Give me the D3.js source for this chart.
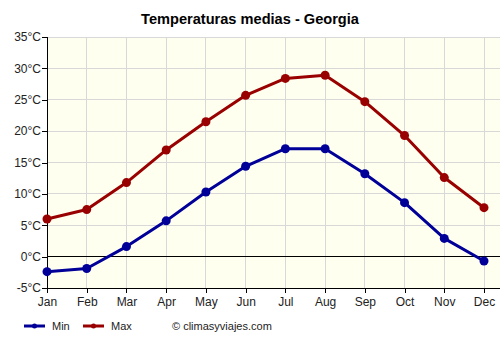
<!DOCTYPE html>
<html>
<head>
<meta charset="utf-8">
<script src="https://cdn.jsdelivr.net/npm/d3@7"></script>
<style>
  body { margin: 0; background: #fff; }
  svg { display: block; font-family: "Liberation Sans", Arial, sans-serif; }
</style>
</head>
<body>
<svg id="chart" width="500" height="350"></svg>
<script>
const months = ["Jan","Feb","Mar","Apr","May","Jun","Jul","Aug","Sep","Oct","Nov","Dec"];
const minTemps = [-2.4, -1.9, 1.6, 5.7, 10.3, 14.4, 17.2, 17.2, 13.2, 8.6, 2.9, -0.7];
const maxTemps = [6.0, 7.5, 11.8, 17.0, 21.5, 25.7, 28.4, 28.9, 24.7, 19.3, 12.6, 7.8];
const yTicks = [-5, 0, 5, 10, 15, 20, 25, 30, 35];

const svg = d3.select("#chart");
const plotLeft = 47, plotRight = 500, plotTop = 37, plotBottom = 288;

const x = d3.scalePoint().domain(months).range([plotLeft, 484]);
const y = d3.scaleLinear().domain([-5, 35]).range([plotBottom, plotTop]);

// plot background
svg.append("rect")
  .attr("x", plotLeft).attr("y", plotTop)
  .attr("width", plotRight - plotLeft).attr("height", plotBottom - plotTop)
  .attr("fill", "#fffff0");

// grid
svg.append("g").selectAll("line").data(yTicks).enter().append("line")
  .attr("x1", plotLeft).attr("x2", plotRight)
  .attr("y1", d => y(d)).attr("y2", d => y(d))
  .attr("stroke", "#d8d8d8")
  .attr("shape-rendering", "crispEdges");

svg.append("g").selectAll("line").data(months).enter().append("line")
  .attr("x1", d => x(d)).attr("x2", d => x(d))
  .attr("y1", plotTop).attr("y2", plotBottom)
  .attr("stroke", "#d8d8d8")
  .attr("shape-rendering", "crispEdges");

// zero line
svg.append("line")
  .attr("x1", plotLeft).attr("x2", plotRight)
  .attr("y1", y(0)).attr("y2", y(0))
  .attr("stroke", "#000").attr("shape-rendering", "crispEdges");

// axes
const yAxis = svg.append("g")
  .attr("transform", "translate(" + plotLeft + ",0)")
  .call(d3.axisLeft(y).tickValues(yTicks).tickSize(5).tickFormat(d => d + "°C"));
const xAxis = svg.append("g")
  .attr("transform", "translate(0," + plotBottom + ")")
  .call(d3.axisBottom(x).tickSize(5));
xAxis.select(".domain").attr("d", "M" + plotLeft + ",0.5H" + plotRight);

[yAxis, xAxis].forEach(function(a) {
  a.selectAll("text").attr("font-size", 12).attr("fill", "#222")
    .attr("font-family", "Liberation Sans, Arial, sans-serif");
  a.selectAll("line, path").attr("stroke", "#000").attr("shape-rendering", "crispEdges");
});
yAxis.selectAll("text").attr("x", -6);
xAxis.selectAll("text").attr("y", 9);

// series
const series = [
  { name: "Min", values: minTemps, color: "#000099" },
  { name: "Max", values: maxTemps, color: "#990000" }
];

const line = d3.line()
  .x((d, i) => x(months[i]))
  .y(d => y(d));

series.forEach(function(s) {
  svg.append("path")
    .datum(s.values)
    .attr("fill", "none")
    .attr("stroke", s.color)
    .attr("stroke-width", 3)
    .attr("stroke-linejoin", "round")
    .attr("d", line);
  svg.append("g").selectAll("circle").data(s.values).enter().append("circle")
    .attr("cx", (d, i) => x(months[i]))
    .attr("cy", d => y(d))
    .attr("r", 4.5)
    .attr("fill", s.color);
});

// title
svg.append("text")
  .attr("x", 250).attr("y", 24)
  .attr("text-anchor", "middle")
  .attr("font-size", 14.6).attr("font-weight", "bold")
  .text("Temperaturas medias - Georgia");

// legend
const legend = svg.append("g");
series.forEach(function(s, i) {
  const lx = 24 + i * 59;
  legend.append("line")
    .attr("x1", lx).attr("x2", lx + 21)
    .attr("y1", 326).attr("y2", 326)
    .attr("stroke", s.color).attr("stroke-width", 3);
  legend.append("circle")
    .attr("cx", lx + 10.5).attr("cy", 326).attr("r", 2.5)
    .attr("fill", s.color);
  legend.append("text")
    .attr("x", lx + 28).attr("y", 330)
    .attr("font-size", 11).attr("fill", "#222")
    .text(s.name);
});

svg.append("text")
  .attr("x", 172).attr("y", 330)
  .attr("font-size", 11).attr("fill", "#222")
  .text("© climasyviajes.com");
</script>
</body>
</html>
